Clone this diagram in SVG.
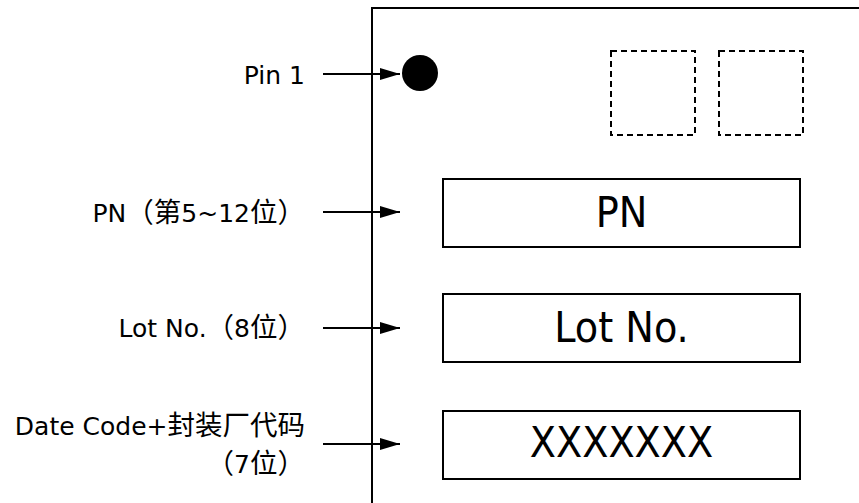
<svg xmlns="http://www.w3.org/2000/svg" width="859" height="503" viewBox="0 0 859 503">
<style>
.lbl{font-family:"DejaVu Sans","Noto Sans CJK SC",sans-serif;font-size:25px;fill:#000;text-anchor:end}
.cjk{font-family:"Noto Sans CJK SC",sans-serif;font-size:27.5px}
.big{font-family:"DejaVu Sans","Noto Sans CJK SC",sans-serif;font-size:42.5px;fill:#000;text-anchor:middle;font-stretch:condensed}
.box{fill:#fff;stroke:#000;stroke-width:2}
.dash{fill:none;stroke:#000;stroke-width:2;stroke-dasharray:6,4}
.conn{stroke:#000;stroke-width:2;fill:none;marker-end:url(#ah)}
</style>
<defs>
<marker id="ah" markerWidth="20" markerHeight="12" refX="20" refY="6" orient="auto" markerUnits="userSpaceOnUse">
<path d="M0,0 L20,6 L0,12 Z" fill="#000"/>
</marker>
</defs>
<rect width="859" height="503" fill="#fff"/>
<g id="chip">
<path d="M372,503 L372,8 L859,8" fill="none" stroke="#000" stroke-width="2"/>
</g>
<g id="pin1dot"><circle cx="420" cy="73" r="18" fill="#000"/></g>
<g id="dash1"><rect class="dash" x="611" y="51" width="84" height="84"/></g>
<g id="dash2"><rect class="dash" x="719" y="51" width="84" height="84"/></g>
<g id="pnbox"><rect class="box" x="443" y="179" width="357" height="68"/><text class="big" x="621.5" y="227">PN</text></g>
<g id="lotbox"><rect class="box" x="443" y="294" width="357" height="68"/><text class="big" x="621.5" y="342">Lot No.</text></g>
<g id="datebox"><rect class="box" x="443" y="411" width="357" height="68"/><text class="big" x="621.5" y="457">XXXXXXX</text></g>
<g id="labels">
<text class="lbl" x="305" y="84">Pin 1</text>
<text class="lbl" x="305" y="222">PN<tspan class="cjk">（第</tspan>5~12<tspan class="cjk">位）</tspan></text>
<text class="lbl" x="305" y="337">Lot No.<tspan class="cjk">（</tspan>8<tspan class="cjk">位）</tspan></text>
<text class="lbl" x="305" y="435">Date Code+<tspan class="cjk">封装厂代码</tspan></text>
<text class="lbl" x="305" y="473"><tspan class="cjk">（</tspan>7<tspan class="cjk">位）</tspan></text>
</g>
<g id="connectors">
<line class="conn" x1="323" y1="74" x2="400" y2="74"/>
<line class="conn" x1="323" y1="212" x2="400" y2="212"/>
<line class="conn" x1="323" y1="328" x2="400" y2="328"/>
<line class="conn" x1="323" y1="444" x2="400" y2="444"/>
</g>
</svg>
